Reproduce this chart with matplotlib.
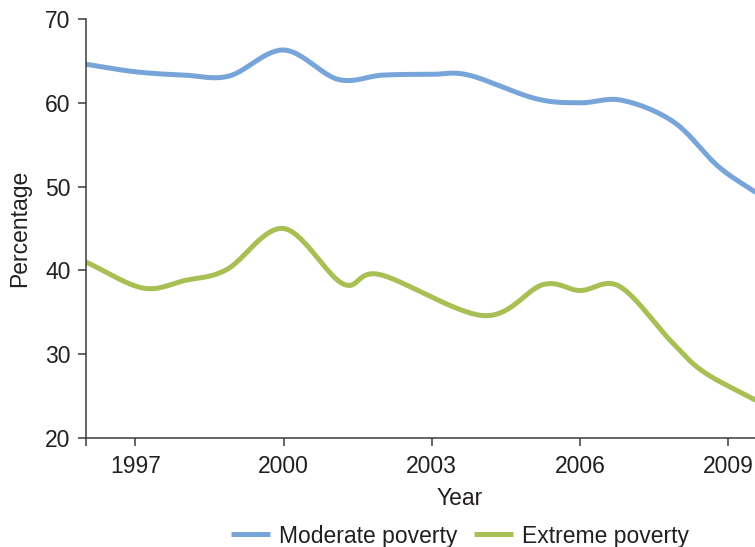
import numpy as np
import matplotlib
matplotlib.use("Agg")
import matplotlib.pyplot as plt

plt.rcParams['font.family'] = ['Liberation Sans', 'DejaVu Sans']

# Survey estimates (share of population, %)
moderate_years = [1996.0, 1997.0, 1998.0, 1998.9, 2000.0, 2001.1, 2002.0,
                  2003.0, 2003.75, 2005.1, 2006.0, 2006.85, 2007.9, 2008.8, 2009.56]
moderate_vals = [64.6, 63.7, 63.3, 63.2, 66.3, 62.8, 63.3,
                 63.4, 63.3, 60.5, 60.0, 60.3, 57.7, 52.4, 49.3]

extreme_years = [1996.0, 1997.15, 1998.0, 1998.85, 2000.0, 2001.2, 2001.95,
                 2004.05, 2005.25, 2006.0, 2006.8, 2007.85, 2008.5, 2009.56]
extreme_vals = [41.0, 37.9, 38.8, 40.1, 45.0, 38.4, 39.5,
                34.6, 38.3, 37.6, 38.1, 31.5, 27.9, 24.5]

year_ticks = [1997, 2000, 2003, 2006, 2009]
pct_ticks = [20, 30, 40, 50, 60, 70]

MOD_COLOR = "#78a5d9"
EXT_COLOR = "#a8bf53"
AXIS_COLOR = "#3a3a3a"
TEXT_COLOR = "#231f20"
FS = 16.5


def smooth(xs, ys, n=30):
    """Catmull-Rom curve through the given points (Excel-style smoothed line)."""
    p = np.column_stack([xs, ys]).astype(float)
    p = np.vstack([2 * p[0] - p[1], p, 2 * p[-1] - p[-2]])
    out = []
    t = np.linspace(0, 1, n, endpoint=False)[:, None]
    for i in range(1, len(p) - 2):
        p0, p1, p2, p3 = p[i - 1], p[i], p[i + 1], p[i + 2]
        seg = 0.5 * ((2 * p1) + (-p0 + p2) * t +
                     (2 * p0 - 5 * p1 + 4 * p2 - p3) * t ** 2 +
                     (-p0 + 3 * p1 - 3 * p2 + p3) * t ** 3)
        out.append(seg)
    out.append(p[-2][None, :])
    out = np.vstack(out)
    return out[:, 0], out[:, 1]


fig = plt.figure(figsize=(7.55, 5.47), dpi=100)
W, H = 755, 547
left, right, top, bottom = 86, 834, 19, 438
ax = fig.add_axes([left / W, 1 - bottom / H, (right - left) / W, (bottom - top) / H])

mx, my = smooth(moderate_years, moderate_vals)
ex, ey = smooth(extreme_years, extreme_vals)
ax.plot(mx, my, color=MOD_COLOR, lw=3.6, solid_capstyle='butt', label="Moderate poverty")
ax.plot(ex, ey, color=EXT_COLOR, lw=3.6, solid_capstyle='butt', label="Extreme poverty")

ax.set_xlim(1996, 1996 + (right - left) / 49.4)
ax.set_ylim(20, 70)
ax.set_xticks(year_ticks)
ax.set_xticks([1996], minor=True)
ax.set_yticks(pct_ticks)

for s in ("top", "right"):
    ax.spines[s].set_visible(False)
for s in ("left", "bottom"):
    ax.spines[s].set_color(AXIS_COLOR)
    ax.spines[s].set_linewidth(1.1)

ax.tick_params(axis='both', which='both', direction='out', length=6,
               width=1.1, color=AXIS_COLOR, labelsize=FS, labelcolor=TEXT_COLOR)
ax.tick_params(axis='y', pad=5)
ax.tick_params(axis='x', pad=6)

ax.set_xlabel("Year", fontsize=FS, color=TEXT_COLOR, labelpad=7)
ax.set_ylabel("Percentage", fontsize=FS, color=TEXT_COLOR, labelpad=10)

fig.legend(loc='center', bbox_to_anchor=(460 / W, 1 - 536 / H), ncol=2,
           frameon=False, fontsize=FS, handlelength=1.7, handletextpad=0.4,
           columnspacing=0.75, labelcolor=TEXT_COLOR)

fig.savefig("out.png", dpi=100)
